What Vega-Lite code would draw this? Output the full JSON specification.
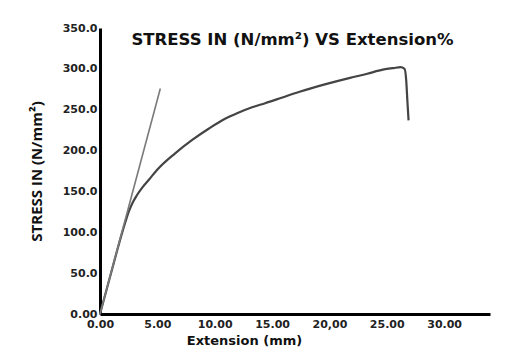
{
  "$schema": "https://vega.github.io/schema/vega-lite/v6.json",
  "width": 390,
  "height": 286,
  "autosize": {"type": "none"},
  "padding": {"left": 100, "top": 28, "right": 17, "bottom": 36},
  "background": "white",
  "data": {
    "values": [
      {"series": "curve", "i": 0, "ext": 0, "stress": 0},
      {"series": "curve", "i": 1, "ext": 0.5, "stress": 26},
      {"series": "curve", "i": 2, "ext": 1.0, "stress": 52},
      {"series": "curve", "i": 3, "ext": 1.5, "stress": 78},
      {"series": "curve", "i": 4, "ext": 1.9, "stress": 98},
      {"series": "curve", "i": 5, "ext": 2.2, "stress": 112},
      {"series": "curve", "i": 6, "ext": 2.5, "stress": 125},
      {"series": "curve", "i": 7, "ext": 2.8, "stress": 135},
      {"series": "curve", "i": 8, "ext": 3.2, "stress": 145},
      {"series": "curve", "i": 9, "ext": 3.7, "stress": 155},
      {"series": "curve", "i": 10, "ext": 4.3, "stress": 165},
      {"series": "curve", "i": 11, "ext": 5.09, "stress": 178},
      {"series": "curve", "i": 12, "ext": 6.5, "stress": 196},
      {"series": "curve", "i": 13, "ext": 8.04, "stress": 213},
      {"series": "curve", "i": 14, "ext": 9.5, "stress": 227},
      {"series": "curve", "i": 15, "ext": 10.9, "stress": 239},
      {"series": "curve", "i": 16, "ext": 12.0, "stress": 246},
      {"series": "curve", "i": 17, "ext": 13.26, "stress": 253},
      {"series": "curve", "i": 18, "ext": 14.4, "stress": 258},
      {"series": "curve", "i": 19, "ext": 15.9, "stress": 265},
      {"series": "curve", "i": 20, "ext": 17.4, "stress": 272},
      {"series": "curve", "i": 21, "ext": 19.6, "stress": 281},
      {"series": "curve", "i": 22, "ext": 21.8, "stress": 289},
      {"series": "curve", "i": 23, "ext": 23.3, "stress": 294},
      {"series": "curve", "i": 24, "ext": 24.65, "stress": 299},
      {"series": "curve", "i": 25, "ext": 25.6, "stress": 301},
      {"series": "curve", "i": 26, "ext": 26.2, "stress": 302},
      {"series": "curve", "i": 27, "ext": 26.55, "stress": 300},
      {"series": "curve", "i": 28, "ext": 26.7, "stress": 285},
      {"series": "curve", "i": 29, "ext": 26.8, "stress": 260},
      {"series": "curve", "i": 30, "ext": 26.9, "stress": 237},
      {"series": "tangent", "i": 0, "ext": 0, "stress": 0},
      {"series": "tangent", "i": 1, "ext": 5.26, "stress": 276}
    ]
  },
  "layer": [
    {
      "mark": {"type": "line", "clip": false, "interpolate": "monotone"},
      "encoding": {
        "x": {
          "field": "ext",
          "type": "quantitative",
          "scale": {"domain": [0, 34], "nice": false, "zero": false},
          "axis": {
            "title": "Extension (mm)",
            "values": [0, 5, 10, 15, 20, 25, 30],
            "labelExpr": "datum.value == 20 ? '20,00' : format(datum.value, '.2f')",
            "grid": false,
            "domainColor": "#000",
            "domainWidth": 3,
            "tickSize": 0,
            "labelFont": "DejaVu Sans",
            "labelFontWeight": "bold",
            "labelFontSize": 11,
            "labelColor": "#222",
            "labelPadding": 4,
            "labelDx": 4,
            "labelFlush": false,
            "titleFont": "DejaVu Sans",
            "titleFontWeight": "bold",
            "titleFontSize": 13,
            "titleColor": "#111",
            "titleX": 144,
            "titlePadding": 5
          }
        },
        "y": {
          "field": "stress",
          "type": "quantitative",
          "scale": {"domain": [0, 350], "nice": false},
          "axis": {
            "title": "STRESS IN (N/mm²)",
            "values": [0, 50, 100, 150, 200, 250, 300, 350],
            "labelExpr": "datum.value == 0 ? '0.00' : format(datum.value, '.1f')",
            "grid": false,
            "domainColor": "#000",
            "domainWidth": 3,
            "tickSize": 0,
            "labelFont": "DejaVu Sans",
            "labelFontWeight": "bold",
            "labelFontSize": 11,
            "labelColor": "#222",
            "labelPadding": 3,
            "labelFlush": false,
            "titleFont": "Open Sans",
            "titleFontWeight": "bold",
            "titleFontSize": 15,
            "titleColor": "#111",
            "titlePadding": 18
          }
        },
        "detail": {"field": "series"},
        "order": {"field": "i", "type": "quantitative"},
        "color": {
          "field": "series",
          "type": "nominal",
          "scale": {"domain": ["curve", "tangent"], "range": ["#444444", "#7a7a7a"]},
          "legend": null
        },
        "strokeWidth": {
          "field": "series",
          "type": "nominal",
          "scale": {"domain": ["curve", "tangent"], "range": [2.2, 1.6]},
          "legend": null
        }
      }
    },
    {
      "mark": {"type": "rule", "opacity": 0},
      "encoding": {
        "x": {
          "datum": 0,
          "type": "quantitative",
          "axis": {
            "orient": "top",
            "title": "STRESS IN (N/mm²) VS Extension%",
            "labels": false,
            "ticks": false,
            "domain": false,
            "grid": false,
            "titleFont": "DejaVu Sans",
            "titleFontWeight": "bold",
            "titleFontSize": 16.5,
            "titleColor": "#111",
            "titleAlign": "center",
            "titleBaseline": "alphabetic",
            "titleAngle": 0,
            "titleX": 192,
            "titleY": 16
          }
        }
      }
    }
  ],
  "resolve": {"axis": {"x": "independent"}},
  "config": {"view": {"stroke": null}}
}
